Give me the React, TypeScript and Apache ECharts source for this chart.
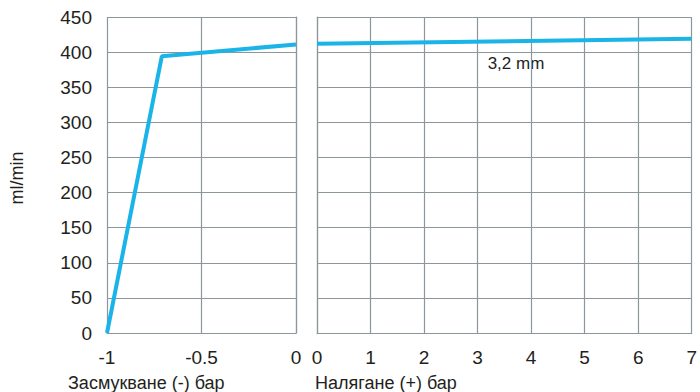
import React, { useEffect, useRef } from "react";
import * as echarts from "echarts";

const suctionX = [-1, -0.71, 0];
const suctionY = [0, 394, 411];
const pressureX = [0, 7];
const pressureY = [412, 419];
const yTicks = [0, 50, 100, 150, 200, 250, 300, 350, 400, 450];
const leftName = "Засмукване (-) бар";
const rightName = "Налягане (+) бар";
const yName = "ml/min";
const seriesLabel = "3,2 mm";

const FONT = "Liberation Sans";
const TEXT = "#231f20";
const GRID = "#8d979b";
const LINE = "#1ab4e8";

export default function App() {
  const ref = useRef<HTMLDivElement>(null);
  useEffect(() => {
    document.body.style.margin = "0";
    const chart = echarts.init(ref.current!, null, { renderer: "svg" });
    const axisLabel = { color: TEXT, fontFamily: FONT, fontSize: 19 };
    const lineStyle = { color: GRID, width: 1.2 };
    chart.setOption({
      animation: false,
      grid: [
        { left: 107, top: 17, width: 189, height: 316 },
        { left: 317, top: 17, width: 381, height: 316 },
      ],
      xAxis: [
        {
          type: "value", gridIndex: 0, min: -1, max: 0, interval: 0.5,
          axisLine: { show: true, lineStyle }, axisTick: { show: false },
          splitLine: { show: true, lineStyle },
          axisLabel: { ...axisLabel, margin: 15 },
        },
        {
          type: "value", gridIndex: 1, min: 0, max: 7, interval: 1,
          axisLine: { show: true, lineStyle }, axisTick: { show: false },
          splitLine: { show: true, lineStyle },
          axisLabel: { ...axisLabel, margin: 15 },
        },
      ],
      yAxis: [
        {
          type: "value", gridIndex: 0, min: yTicks[0], max: yTicks[yTicks.length - 1], interval: 50,
          axisLine: { show: true, lineStyle }, axisTick: { show: false },
          splitLine: { show: true, lineStyle },
          axisLabel: { ...axisLabel, margin: 15 },
        },
        {
          type: "value", gridIndex: 1, min: yTicks[0], max: yTicks[yTicks.length - 1], interval: 50,
          axisLine: { show: true, lineStyle }, axisTick: { show: false },
          splitLine: { show: true, lineStyle },
          axisLabel: { show: false },
        },
      ],
      series: [
        {
          type: "line", xAxisIndex: 0, yAxisIndex: 0, symbol: "none",
          data: suctionX.map((x, i) => [x, suctionY[i]]),
          lineStyle: { color: LINE, width: 4 },
        },
        {
          type: "line", xAxisIndex: 1, yAxisIndex: 1, symbol: "none",
          data: pressureX.map((x, i) => [x, pressureY[i]]),
          lineStyle: { color: LINE, width: 4 },
        },
      ],
      graphic: [
        {
          type: "text", x: 68, y: 383,
          style: { text: leftName, fill: TEXT, font: `18px "${FONT}"`, verticalAlign: "middle" },
        },
        {
          type: "text", x: 315, y: 383,
          style: { text: rightName, fill: TEXT, font: `18px "${FONT}"`, verticalAlign: "middle" },
        },
        {
          type: "text", x: 17, y: 178, rotation: Math.PI / 2,
          style: { text: yName, fill: TEXT, font: `18px "${FONT}"`, align: "center", verticalAlign: "middle" },
        },
        {
          type: "text", x: 516, y: 63,
          style: { text: seriesLabel, fill: TEXT, font: `17px "${FONT}"`, align: "center", verticalAlign: "middle" },
        },
      ],
    });
    return () => chart.dispose();
  }, []);
  return <div ref={ref} style={{ width: 700, height: 392 }} />;
}
